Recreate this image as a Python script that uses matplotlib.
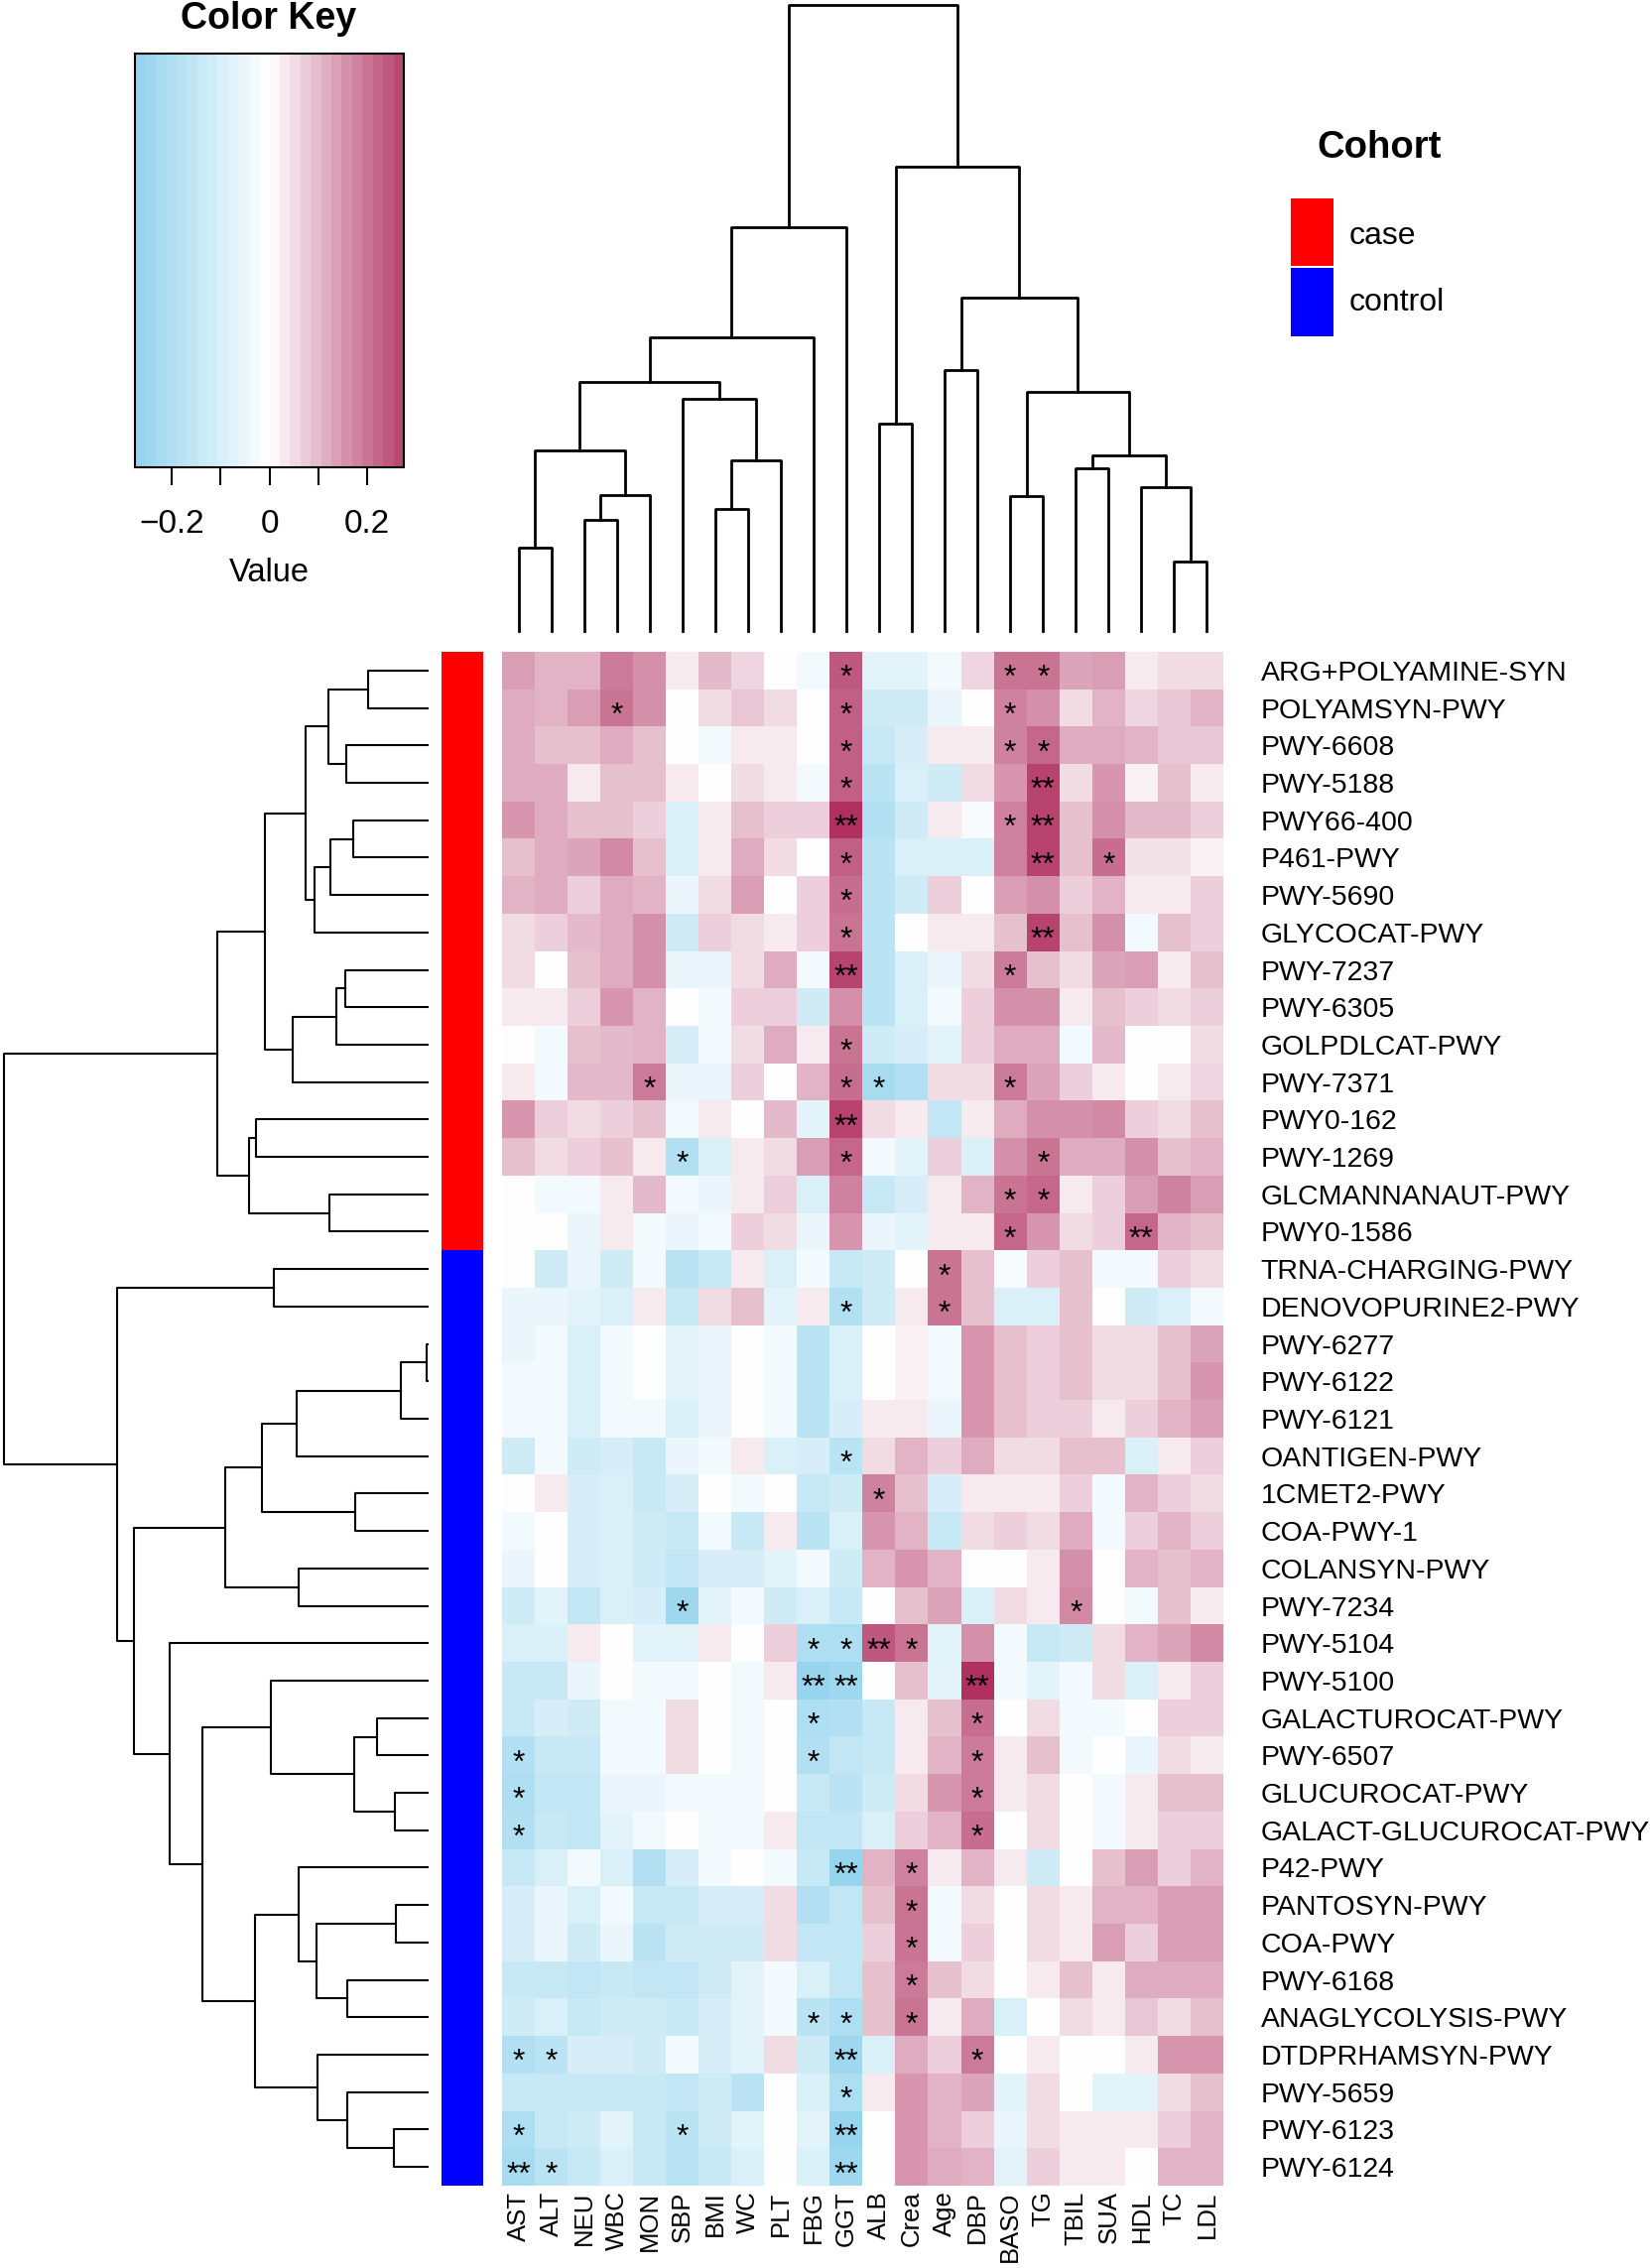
import numpy as np
import matplotlib
matplotlib.use('Agg')
import matplotlib.pyplot as plt
from matplotlib.colors import LinearSegmentedColormap, Normalize
from matplotlib.patches import Rectangle

plt.rcParams['font.family'] = ['Liberation Sans', 'DejaVu Sans']

# Spalten (klinische Parameter) und Zeilen (Pathways)
columns = ['AST', 'ALT', 'NEU', 'WBC', 'MON', 'SBP', 'BMI', 'WC', 'PLT', 'FBG', 'GGT',
           'ALB', 'Crea', 'Age', 'DBP', 'BASO', 'TG', 'TBIL', 'SUA', 'HDL', 'TC', 'LDL']

rows = ['ARG+POLYAMINE-SYN', 'POLYAMSYN-PWY', 'PWY-6608', 'PWY-5188', 'PWY66-400',
        'P461-PWY', 'PWY-5690', 'GLYCOCAT-PWY', 'PWY-7237', 'PWY-6305', 'GOLPDLCAT-PWY',
        'PWY-7371', 'PWY0-162', 'PWY-1269', 'GLCMANNANAUT-PWY', 'PWY0-1586',
        'TRNA-CHARGING-PWY', 'DENOVOPURINE2-PWY', 'PWY-6277', 'PWY-6122', 'PWY-6121',
        'OANTIGEN-PWY', '1CMET2-PWY', 'COA-PWY-1', 'COLANSYN-PWY', 'PWY-7234', 'PWY-5104',
        'PWY-5100', 'GALACTUROCAT-PWY', 'PWY-6507', 'GLUCUROCAT-PWY', 'GALACT-GLUCUROCAT-PWY',
        'P42-PWY', 'PANTOSYN-PWY', 'COA-PWY', 'PWY-6168', 'ANAGLYCOLYSIS-PWY',
        'DTDPRHAMSYN-PWY', 'PWY-5659', 'PWY-6123', 'PWY-6124']

cohort = ['case'] * 16 + ['control'] * 25

# Korrelationswerte
values = [
    [0.14, 0.11, 0.11, 0.19, 0.16, 0.03, 0.10, 0.06, 0.00, -0.03, 0.24, -0.07, -0.07, -0.03, 0.06, 0.20, 0.20, 0.13, 0.14, 0.03, 0.05, 0.05],
    [0.12, 0.11, 0.14, 0.20, 0.16, 0.00, 0.05, 0.08, 0.05, 0.00, 0.23, -0.12, -0.12, -0.05, 0.00, 0.18, 0.16, 0.05, 0.11, 0.06, 0.08, 0.11],
    [0.12, 0.09, 0.09, 0.12, 0.09, 0.00, -0.03, 0.03, 0.03, 0.00, 0.23, -0.14, -0.10, 0.03, 0.03, 0.18, 0.22, 0.12, 0.12, 0.11, 0.08, 0.08],
    [0.12, 0.12, 0.03, 0.09, 0.09, 0.03, 0.00, 0.05, 0.03, -0.03, 0.23, -0.17, -0.09, -0.12, 0.05, 0.15, 0.27, 0.05, 0.15, 0.02, 0.09, 0.03],
    [0.15, 0.12, 0.09, 0.09, 0.07, -0.09, 0.03, 0.09, 0.07, 0.07, 0.30, -0.19, -0.12, 0.03, -0.02, 0.18, 0.27, 0.09, 0.16, 0.10, 0.10, 0.07],
    [0.09, 0.12, 0.13, 0.17, 0.09, -0.09, 0.03, 0.12, 0.05, 0.00, 0.23, -0.17, -0.09, -0.09, -0.09, 0.18, 0.27, 0.09, 0.21, 0.04, 0.04, 0.02],
    [0.11, 0.12, 0.07, 0.12, 0.11, -0.05, 0.05, 0.14, 0.00, 0.07, 0.21, -0.17, -0.12, 0.07, 0.00, 0.14, 0.16, 0.07, 0.11, 0.03, 0.03, 0.07],
    [0.05, 0.07, 0.10, 0.12, 0.16, -0.12, 0.07, 0.05, 0.03, 0.07, 0.20, -0.17, 0.00, 0.03, 0.03, 0.09, 0.27, 0.09, 0.16, -0.03, 0.09, 0.07],
    [0.05, 0.00, 0.09, 0.12, 0.16, -0.05, -0.05, 0.05, 0.12, -0.03, 0.27, -0.17, -0.09, -0.05, 0.05, 0.19, 0.09, 0.05, 0.13, 0.14, 0.03, 0.09],
    [0.03, 0.03, 0.07, 0.15, 0.11, 0.00, -0.03, 0.07, 0.07, -0.12, 0.16, -0.17, -0.09, -0.03, 0.07, 0.16, 0.16, 0.03, 0.09, 0.07, 0.05, 0.07],
    [0.00, -0.03, 0.09, 0.10, 0.11, -0.10, -0.03, 0.05, 0.12, 0.03, 0.20, -0.12, -0.10, -0.07, 0.07, 0.12, 0.12, -0.03, 0.10, 0.00, 0.00, 0.05],
    [0.03, -0.03, 0.10, 0.10, 0.19, -0.05, -0.05, 0.07, 0.00, 0.11, 0.21, -0.22, -0.19, 0.05, 0.05, 0.19, 0.13, 0.07, 0.03, 0.00, 0.03, 0.06],
    [0.15, 0.07, 0.05, 0.07, 0.09, -0.03, 0.03, 0.00, 0.10, -0.07, 0.27, 0.05, 0.03, -0.15, 0.03, 0.12, 0.16, 0.16, 0.17, 0.07, 0.05, 0.09],
    [0.09, 0.05, 0.07, 0.09, 0.03, -0.19, -0.09, 0.03, 0.05, 0.14, 0.22, -0.03, -0.07, 0.07, -0.09, 0.16, 0.20, 0.12, 0.12, 0.16, 0.09, 0.11],
    [0.00, -0.03, -0.03, 0.03, 0.10, -0.03, -0.05, 0.03, 0.07, -0.09, 0.18, -0.14, -0.10, 0.03, 0.11, 0.20, 0.22, 0.03, 0.07, 0.14, 0.18, 0.14],
    [0.00, 0.00, -0.05, 0.03, -0.03, -0.05, -0.03, 0.07, 0.05, -0.05, 0.15, -0.05, -0.07, 0.03, 0.03, 0.22, 0.15, 0.05, 0.07, 0.22, 0.11, 0.09],
    [0.00, -0.12, -0.05, -0.12, -0.03, -0.17, -0.14, 0.03, -0.09, -0.03, -0.14, -0.12, 0.00, 0.20, 0.09, -0.02, 0.07, 0.09, -0.03, -0.03, 0.07, 0.05],
    [-0.05, -0.05, -0.07, -0.09, 0.03, -0.14, 0.05, 0.09, -0.07, 0.03, -0.19, -0.12, 0.03, 0.20, 0.09, -0.09, -0.09, 0.09, 0.00, -0.12, -0.09, -0.03],
    [-0.05, -0.03, -0.09, -0.03, 0.00, -0.07, -0.05, 0.00, -0.03, -0.17, -0.09, 0.00, 0.02, -0.03, 0.15, 0.09, 0.07, 0.09, 0.05, 0.05, 0.09, 0.13],
    [-0.03, -0.03, -0.09, -0.03, 0.00, -0.07, -0.05, 0.00, -0.03, -0.17, -0.09, 0.00, 0.02, -0.03, 0.15, 0.09, 0.07, 0.09, 0.05, 0.05, 0.09, 0.15],
    [-0.03, -0.03, -0.09, -0.03, -0.03, -0.09, -0.05, 0.00, -0.03, -0.17, -0.10, 0.03, 0.03, -0.05, 0.15, 0.09, 0.07, 0.07, 0.03, 0.07, 0.11, 0.14],
    [-0.12, -0.03, -0.12, -0.10, -0.14, -0.05, -0.03, 0.03, -0.09, -0.10, -0.17, 0.05, 0.11, 0.07, 0.12, 0.05, 0.05, 0.09, 0.09, -0.09, 0.03, 0.07],
    [0.00, 0.03, -0.10, -0.09, -0.14, -0.10, 0.00, -0.03, 0.00, -0.14, -0.12, 0.18, 0.09, -0.10, 0.03, 0.03, 0.03, 0.07, -0.03, 0.11, 0.07, 0.05],
    [-0.03, 0.00, -0.10, -0.09, -0.12, -0.14, -0.03, -0.14, 0.03, -0.17, -0.09, 0.15, 0.11, -0.14, 0.05, 0.07, 0.05, 0.12, -0.03, 0.07, 0.11, 0.07],
    [-0.05, 0.00, -0.10, -0.09, -0.12, -0.15, -0.10, -0.10, -0.07, -0.03, -0.12, 0.11, 0.15, 0.11, 0.00, 0.00, 0.03, 0.16, 0.00, 0.11, 0.09, 0.11],
    [-0.12, -0.07, -0.15, -0.09, -0.10, -0.24, -0.07, -0.03, -0.12, -0.09, -0.14, 0.00, 0.09, 0.13, -0.09, 0.05, 0.03, 0.17, 0.00, -0.03, 0.09, 0.03],
    [-0.09, -0.09, 0.03, 0.00, -0.07, -0.07, 0.03, 0.00, 0.07, -0.20, -0.20, 0.24, 0.20, -0.07, 0.16, -0.03, -0.14, -0.12, 0.05, 0.11, 0.13, 0.17],
    [-0.14, -0.14, -0.05, 0.00, -0.03, -0.03, 0.00, -0.03, 0.03, -0.26, -0.24, 0.00, 0.09, -0.07, 0.30, -0.03, -0.07, -0.03, 0.05, -0.09, 0.03, 0.07],
    [-0.14, -0.10, -0.12, -0.03, -0.03, 0.05, 0.00, -0.03, 0.00, -0.20, -0.19, -0.14, 0.03, 0.09, 0.21, 0.00, 0.05, -0.03, -0.03, 0.00, 0.07, 0.07],
    [-0.19, -0.14, -0.14, -0.03, -0.03, 0.05, 0.00, -0.03, 0.00, -0.19, -0.15, -0.14, 0.03, 0.11, 0.19, 0.03, 0.09, -0.03, 0.00, -0.05, 0.05, 0.03],
    [-0.20, -0.15, -0.15, -0.05, -0.05, -0.03, -0.03, -0.03, 0.00, -0.14, -0.17, -0.12, 0.05, 0.15, 0.19, 0.03, 0.05, 0.00, -0.03, 0.03, 0.09, 0.09],
    [-0.19, -0.14, -0.15, -0.07, -0.03, 0.00, -0.03, -0.03, 0.03, -0.15, -0.15, -0.09, 0.07, 0.11, 0.21, 0.00, 0.05, 0.00, -0.03, 0.03, 0.07, 0.07],
    [-0.14, -0.09, -0.03, -0.09, -0.19, -0.10, -0.03, 0.00, -0.03, -0.14, -0.26, 0.11, 0.18, 0.03, 0.11, 0.03, -0.12, 0.00, 0.09, 0.14, 0.07, 0.11],
    [-0.10, -0.05, -0.09, -0.03, -0.14, -0.14, -0.10, -0.10, 0.05, -0.19, -0.15, 0.09, 0.20, -0.03, 0.05, 0.00, 0.05, 0.03, 0.11, 0.11, 0.14, 0.14],
    [-0.10, -0.05, -0.12, -0.05, -0.17, -0.12, -0.12, -0.12, 0.05, -0.15, -0.15, 0.07, 0.20, -0.03, 0.07, 0.00, 0.05, 0.03, 0.14, 0.07, 0.14, 0.14],
    [-0.14, -0.14, -0.15, -0.14, -0.15, -0.15, -0.12, -0.07, -0.03, -0.09, -0.15, 0.09, 0.19, 0.09, 0.05, 0.00, 0.03, 0.09, 0.03, 0.12, 0.12, 0.12],
    [-0.12, -0.09, -0.14, -0.12, -0.12, -0.14, -0.10, -0.07, -0.03, -0.17, -0.20, 0.09, 0.20, 0.03, 0.12, -0.09, 0.00, 0.05, 0.03, 0.08, 0.05, 0.09],
    [-0.19, -0.17, -0.10, -0.10, -0.12, -0.03, -0.10, -0.07, 0.05, -0.12, -0.24, -0.09, 0.12, 0.07, 0.19, 0.00, 0.03, 0.00, 0.00, 0.03, 0.15, 0.15],
    [-0.14, -0.14, -0.14, -0.14, -0.14, -0.15, -0.12, -0.17, 0.00, -0.09, -0.20, 0.03, 0.15, 0.11, 0.13, -0.07, 0.05, 0.00, -0.07, -0.07, 0.05, 0.09],
    [-0.20, -0.14, -0.12, -0.07, -0.14, -0.17, -0.12, -0.07, 0.00, -0.07, -0.26, 0.00, 0.15, 0.11, 0.07, -0.05, 0.05, 0.03, 0.03, 0.03, 0.07, 0.11],
    [-0.22, -0.17, -0.14, -0.09, -0.14, -0.17, -0.14, -0.09, 0.00, -0.09, -0.24, 0.00, 0.15, 0.12, 0.11, -0.07, 0.07, 0.03, 0.03, 0.00, 0.11, 0.11],
]

# Signifikanz-Sterne: (Zeile, Spalte, Marke)
stars = [
    ('ARG+POLYAMINE-SYN', 'GGT', '*'), ('ARG+POLYAMINE-SYN', 'BASO', '*'), ('ARG+POLYAMINE-SYN', 'TG', '*'),
    ('POLYAMSYN-PWY', 'WBC', '*'), ('POLYAMSYN-PWY', 'GGT', '*'), ('POLYAMSYN-PWY', 'BASO', '*'),
    ('PWY-6608', 'GGT', '*'), ('PWY-6608', 'BASO', '*'), ('PWY-6608', 'TG', '*'),
    ('PWY-5188', 'GGT', '*'), ('PWY-5188', 'TG', '**'),
    ('PWY66-400', 'GGT', '**'), ('PWY66-400', 'BASO', '*'), ('PWY66-400', 'TG', '**'),
    ('P461-PWY', 'GGT', '*'), ('P461-PWY', 'TG', '**'), ('P461-PWY', 'SUA', '*'),
    ('PWY-5690', 'GGT', '*'),
    ('GLYCOCAT-PWY', 'GGT', '*'), ('GLYCOCAT-PWY', 'TG', '**'),
    ('PWY-7237', 'GGT', '**'), ('PWY-7237', 'BASO', '*'),
    ('GOLPDLCAT-PWY', 'GGT', '*'),
    ('PWY-7371', 'MON', '*'), ('PWY-7371', 'GGT', '*'), ('PWY-7371', 'ALB', '*'), ('PWY-7371', 'BASO', '*'),
    ('PWY0-162', 'GGT', '**'),
    ('PWY-1269', 'SBP', '*'), ('PWY-1269', 'GGT', '*'), ('PWY-1269', 'TG', '*'),
    ('GLCMANNANAUT-PWY', 'BASO', '*'), ('GLCMANNANAUT-PWY', 'TG', '*'),
    ('PWY0-1586', 'BASO', '*'), ('PWY0-1586', 'HDL', '**'),
    ('TRNA-CHARGING-PWY', 'Age', '*'),
    ('DENOVOPURINE2-PWY', 'GGT', '*'), ('DENOVOPURINE2-PWY', 'Age', '*'),
    ('OANTIGEN-PWY', 'GGT', '*'),
    ('1CMET2-PWY', 'ALB', '*'),
    ('PWY-7234', 'SBP', '*'), ('PWY-7234', 'TBIL', '*'),
    ('PWY-5104', 'FBG', '*'), ('PWY-5104', 'GGT', '*'), ('PWY-5104', 'ALB', '**'), ('PWY-5104', 'Crea', '*'),
    ('PWY-5100', 'FBG', '**'), ('PWY-5100', 'GGT', '**'), ('PWY-5100', 'DBP', '**'),
    ('GALACTUROCAT-PWY', 'FBG', '*'), ('GALACTUROCAT-PWY', 'DBP', '*'),
    ('PWY-6507', 'AST', '*'), ('PWY-6507', 'FBG', '*'), ('PWY-6507', 'DBP', '*'),
    ('GLUCUROCAT-PWY', 'AST', '*'), ('GLUCUROCAT-PWY', 'DBP', '*'),
    ('GALACT-GLUCUROCAT-PWY', 'AST', '*'), ('GALACT-GLUCUROCAT-PWY', 'DBP', '*'),
    ('P42-PWY', 'GGT', '**'), ('P42-PWY', 'Crea', '*'),
    ('PANTOSYN-PWY', 'Crea', '*'),
    ('COA-PWY', 'Crea', '*'),
    ('PWY-6168', 'Crea', '*'),
    ('ANAGLYCOLYSIS-PWY', 'FBG', '*'), ('ANAGLYCOLYSIS-PWY', 'GGT', '*'), ('ANAGLYCOLYSIS-PWY', 'Crea', '*'),
    ('DTDPRHAMSYN-PWY', 'AST', '*'), ('DTDPRHAMSYN-PWY', 'ALT', '*'), ('DTDPRHAMSYN-PWY', 'GGT', '**'), ('DTDPRHAMSYN-PWY', 'DBP', '*'),
    ('PWY-5659', 'GGT', '*'),
    ('PWY-6123', 'AST', '*'), ('PWY-6123', 'SBP', '*'), ('PWY-6123', 'GGT', '**'),
    ('PWY-6124', 'AST', '**'), ('PWY-6124', 'ALT', '*'), ('PWY-6124', 'GGT', '**'),
]

# Dendrogramme als (links, rechts, Hoehe), Blaetter = Indizes
col_a = ((0, 1, 0.133), ((2, 3, 0.178), 4, 0.217), 0.288)
col_b = (5, ((6, 7, 0.195), 8, 0.272), 0.371)
col_left = (((col_a, col_b, 0.398), 9, 0.469), 10, 0.645)
col_c = ((15, 16, 0.216), ((17, 18, 0.260), (19, (20, 21, 0.111), 0.230), 0.280), 0.382)
col_right = ((11, 12, 0.332), ((13, 14, 0.417), col_c, 0.533), 0.742)
col_tree = (col_left, col_right, 1.0)

row_c1 = (((0, 1, 0.140), (2, 3, 0.192), 0.235), (((4, 5, 0.176), 6, 0.230), 7, 0.268), 0.289)
row_c2 = (((8, 9, 0.195), 10, 0.216), 11, 0.319)
row_c3 = ((12, 13, 0.404), (14, 15, 0.233), 0.422)
row_case = ((row_c1, row_c2, 0.384), row_c3, 0.497)
row_d1 = (((((18, 19, 0.002), 20, 0.064), 21, 0.310), (22, 23, 0.172), 0.390), (24, 25, 0.304), 0.478)
row_e1 = (27, ((28, 29, 0.120), (30, 31, 0.078), 0.174), 0.369)
row_e2 = (32, ((33, 34, 0.075), (35, 36, 0.189), 0.263), 0.304)
row_e3 = (37, (38, (39, 40, 0.079), 0.189), 0.260)
row_e = (26, (row_e1, (row_e2, row_e3, 0.408), 0.531), 0.609)
row_control = ((16, 17, 0.362), (row_d1, row_e, 0.693), 0.733)
row_tree = (row_case, row_control, 1.0)

W, H = 1663, 2286


def box(x0, y0, x1, y1):
    return [x0 / W, 1 - y1 / H, (x1 - x0) / W, (y1 - y0) / H]


def draw_tree(ax, node, side, lw):
    if isinstance(node, int):
        return node, 0.0
    left, right, h = node
    pl, hl = draw_tree(ax, left, side, lw)
    pr, hr = draw_tree(ax, right, side, lw)
    if side == 'top':
        ax.plot([pl, pl, pr, pr], [hl, h, h, hr], color='black', lw=lw, clip_on=False)
    else:
        ax.plot([hl, h, h, hr], [pl, pl, pr, pr], color='black', lw=lw, clip_on=False)
    return (pl + pr) / 2, h


cmap = LinearSegmentedColormap.from_list('skm', ['#87CEEB', '#FFFFFF', '#B03060'])
norm = Normalize(vmin=-0.30, vmax=0.30)

fig = plt.figure(figsize=(W / 100, H / 100), dpi=100)

# Heatmap
ax = fig.add_axes(box(506, 657, 1233, 2203))
ax.imshow(np.array(values), cmap=cmap, norm=norm, aspect='auto', interpolation='nearest')
for s in ax.spines.values():
    s.set_visible(False)
ax.set_xticks(range(len(columns)))
ax.set_xticklabels(columns, rotation=90, fontsize=18.5)
ax.set_yticks(range(len(rows)))
ax.set_yticklabels(rows, fontsize=20.5)
ax.yaxis.tick_right()
ax.tick_params(axis='x', length=0, pad=4)
ax.tick_params(axis='y', length=0, pad=27)
for r, c, mark in stars:
    ax.text(columns.index(c), rows.index(r) + 0.22, mark, ha='center', va='center',
            fontsize=23, color='black')

# Cohort-Seitenleiste
axc = fig.add_axes(box(445, 657, 487, 2203))
side_cols = {'case': '#FF0000', 'control': '#0000FF'}
for i, g in enumerate(cohort):
    axc.add_patch(Rectangle((0, i - 0.5), 1, 1, facecolor=side_cols[g], edgecolor='none'))
axc.set_xlim(0, 1)
axc.set_ylim(len(rows) - 0.5, -0.5)
axc.axis('off')

# Zeilen-Dendrogramm
axr = fig.add_axes(box(4, 657, 431, 2203))
draw_tree(axr, row_tree, 'left', 1.5)
axr.set_xlim(1.0, 0.0)
axr.set_ylim(len(rows) - 0.5, -0.5)
axr.axis('off')

# Spalten-Dendrogramm
axt = fig.add_axes(box(506, 5, 1233, 636))
draw_tree(axt, col_tree, 'top', 2.0)
axt.set_xlim(-0.5, len(columns) - 0.5)
axt.set_ylim(0, 1.0)
axt.axis('off')

# Farbschluessel
axk = fig.add_axes(box(136, 54, 407, 471))
edges = np.linspace(-0.275, 0.275, 27)
mids = (edges[:-1] + edges[1:]) / 2
for a, b, m in zip(edges[:-1], edges[1:], mids):
    axk.axvspan(a, b, color=cmap(norm(m)), lw=0)
axk.set_xlim(-0.275, 0.275)
axk.set_ylim(0, 1)
axk.set_yticks([])
axk.set_xticks([-0.2, -0.1, 0, 0.1, 0.2])
axk.set_xticklabels(['\u22120.2', '', '0', '', '0.2'], fontsize=24)
axk.tick_params(axis='x', length=13, width=1.5, pad=17)
for s in axk.spines.values():
    s.set_linewidth(1.5)
fig.text(271 / W, 1 - 19 / H, 'Color Key', ha='center', va='center', fontsize=27, fontweight='bold')
fig.text(271 / W, 1 - 577 / H, 'Value', ha='center', va='center', fontsize=23.5)

# Legende
fig.text(1390 / W, 1 - 149 / H, 'Cohort', ha='center', va='center', fontsize=27.5, fontweight='bold')
fig.add_artist(Rectangle((1301 / W, 1 - 268 / H), 43 / W, 68 / H, transform=fig.transFigure,
                         facecolor='#FF0000', edgecolor='none'))
fig.add_artist(Rectangle((1301 / W, 1 - 339 / H), 43 / W, 69 / H, transform=fig.transFigure,
                         facecolor='#0000FF', edgecolor='none'))
fig.text(1360 / W, 1 - 238 / H, 'case', ha='left', va='center', fontsize=23)
fig.text(1360 / W, 1 - 305 / H, 'control', ha='left', va='center', fontsize=23)

fig.savefig('out.png', dpi=100)
